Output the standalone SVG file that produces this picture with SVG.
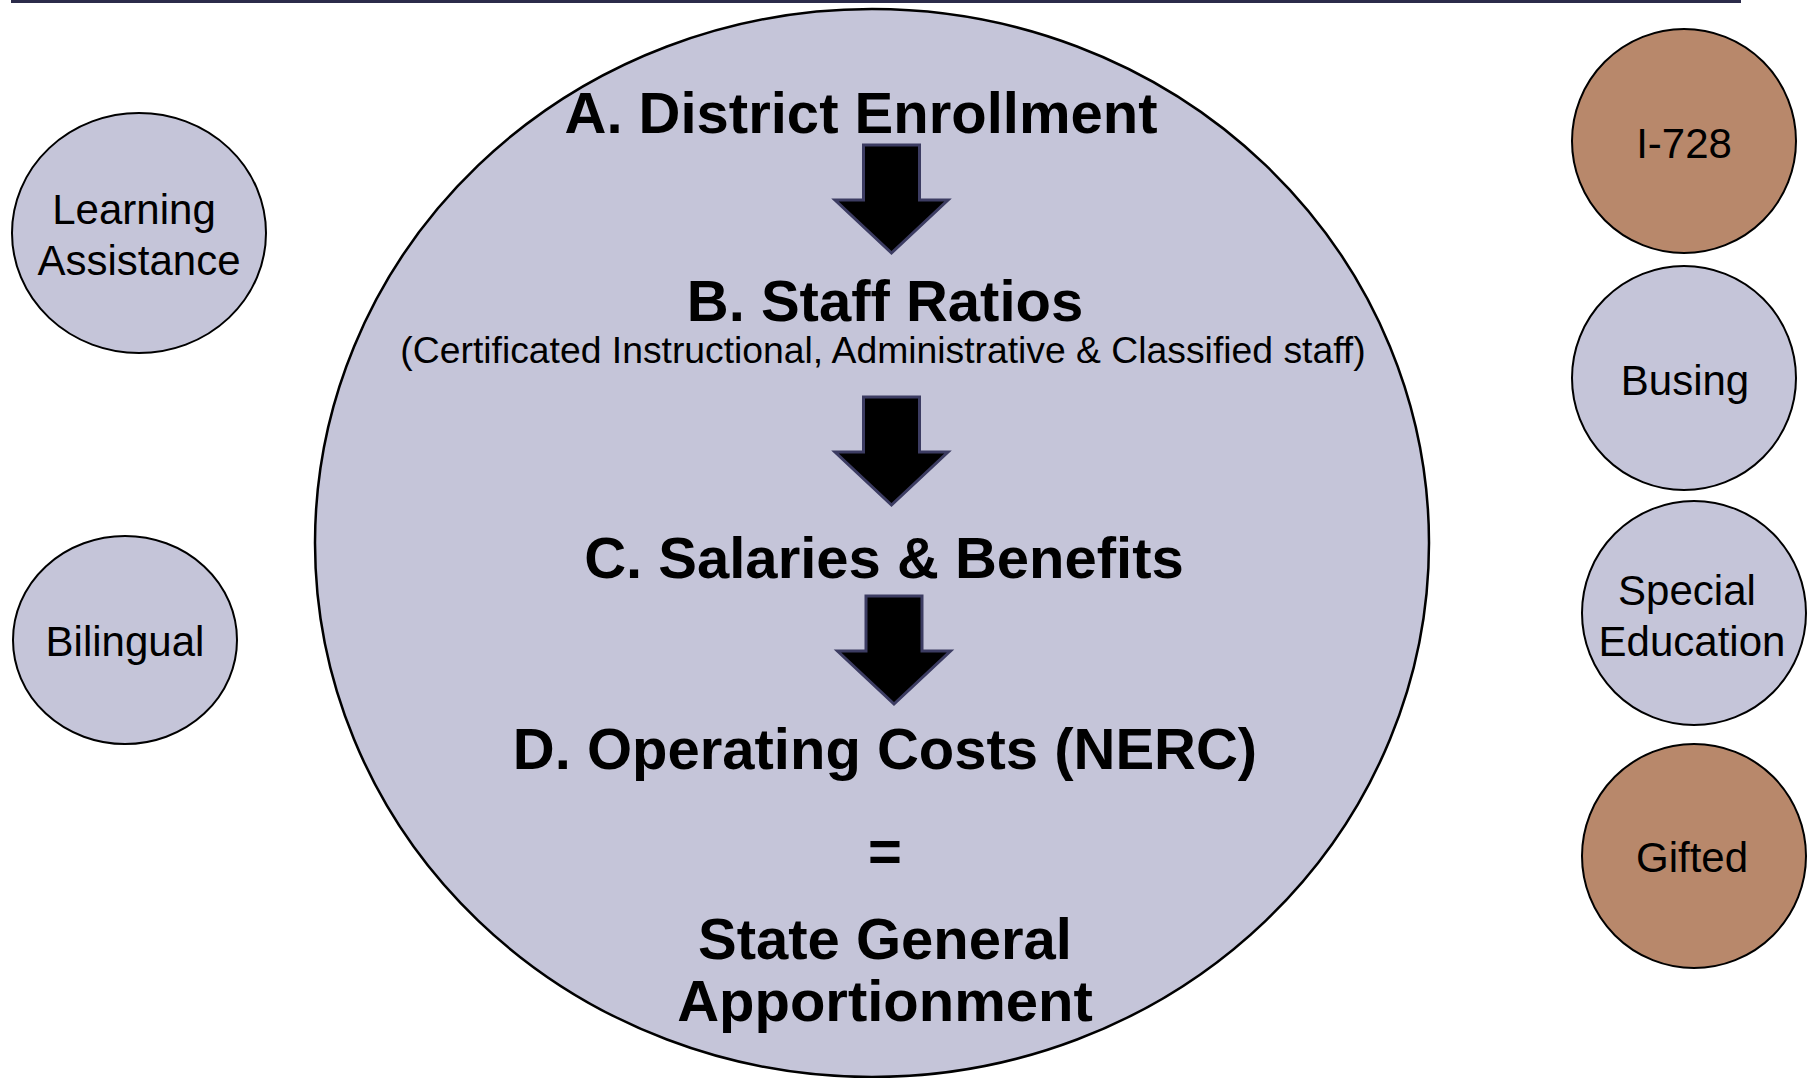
<svg xmlns="http://www.w3.org/2000/svg" width="1811" height="1078" viewBox="0 0 1811 1078">
<defs>
<style>
.bg{fill:#ffffff}
.lav{fill:#c5c5d9;stroke:#000;stroke-width:2}
.brn{fill:#b8886b;stroke:#000;stroke-width:2}
.big{fill:#c5c5d9;stroke:#000;stroke-width:2.5}
.lbl{font-family:"Liberation Sans",Arial,sans-serif;font-size:42px;fill:#000;text-anchor:middle}
.hd{font-family:"Liberation Sans",Arial,sans-serif;font-size:58px;font-weight:bold;fill:#000;text-anchor:middle}
.sub{font-family:"Liberation Sans",Arial,sans-serif;font-size:37.3px;fill:#000;text-anchor:middle}
.arr{fill:#000;stroke:#3c3c62;stroke-width:3;stroke-linejoin:miter}
</style>
<path id="arrow" d="M-28,0 H28 V55 H56.5 L0,108 L-56.5,55 H-28 Z"/>
</defs>
<rect class="bg" x="0" y="0" width="1811" height="1078"/>
<rect x="11" y="0" width="1730" height="3" fill="#2b2b4a"/>

<g id="core">
<ellipse class="big" cx="872" cy="543" rx="557" ry="534"/>
<text class="hd" x="861" y="133">A. District Enrollment</text>
<text class="hd" x="885" y="321">B. Staff Ratios</text>
<text class="sub" x="883" y="363">(Certificated Instructional, Administrative &amp; Classified staff)</text>
<text class="hd" x="884" y="578">C. Salaries &amp; Benefits</text>
<text class="hd" x="885" y="769">D. Operating Costs (NERC)</text>
<text class="hd" x="885" y="871">=</text>
<text class="hd" x="885" y="959">State General</text>
<text class="hd" x="885" y="1021">Apportionment</text>
</g>

<g id="connectors">
<use href="#arrow" class="arr" transform="translate(891.5,145)"/>
<use href="#arrow" class="arr" transform="translate(891.5,397)"/>
<use href="#arrow" class="arr" transform="translate(894,596)"/>
</g>

<g id="learning-assistance">
<ellipse class="lav" cx="139" cy="233" rx="127" ry="120"/>
<text class="lbl" x="134" y="224">Learning</text>
<text class="lbl" x="139" y="275">Assistance</text>
</g>

<g id="bilingual">
<ellipse class="lav" cx="125" cy="640" rx="112" ry="104"/>
<text class="lbl" x="125" y="656">Bilingual</text>
</g>

<g id="i728">
<ellipse class="brn" cx="1684" cy="141" rx="112" ry="112"/>
<text class="lbl" x="1684" y="158">I-728</text>
</g>

<g id="busing">
<ellipse class="lav" cx="1684" cy="378" rx="112" ry="112"/>
<text class="lbl" x="1685" y="395">Busing</text>
</g>

<g id="special-education">
<ellipse class="lav" cx="1694" cy="613" rx="112" ry="112"/>
<text class="lbl" x="1687" y="605">Special</text>
<text class="lbl" x="1692" y="656">Education</text>
</g>

<g id="gifted">
<ellipse class="brn" cx="1694" cy="856" rx="112" ry="112"/>
<text class="lbl" x="1692" y="872">Gifted</text>
</g>
</svg>
